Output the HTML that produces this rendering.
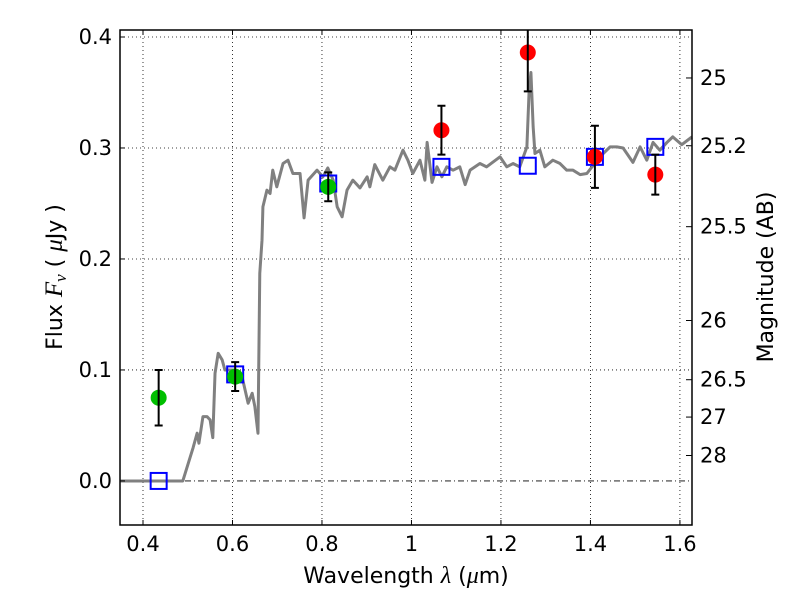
<!DOCTYPE html>
<html><head><meta charset="utf-8"><style>
body{margin:0;background:#fff;}
svg text{font-family:"DejaVu Sans","Liberation Sans",sans-serif;}
</style></head><body>
<svg id="chart" width="800" height="600" xmlns="http://www.w3.org/2000/svg">
<rect width="800" height="600" fill="#fff"/>
<g id="grid"></g>
<g id="marks"></g>
<g id="axes"></g>
<text x="406" y="583" font-size="22" text-anchor="middle">Wavelength  <tspan font-style="italic" font-family="Liberation Serif, serif" font-size="24">λ</tspan> (<tspan font-style="italic" font-family="Liberation Serif, serif" font-size="24">μ</tspan>m)</text>
<text transform="translate(62,277) rotate(-90)" font-size="22" text-anchor="middle">Flux  <tspan font-style="italic" font-family="Liberation Serif, serif" font-size="25">F<tspan font-size="17" dy="4">ν</tspan></tspan><tspan dy="-4">  ( </tspan><tspan font-style="italic" font-family="Liberation Serif, serif" font-size="25">μ</tspan>Jy )</text>
<text transform="translate(773,277) rotate(-90)" font-size="22" text-anchor="middle">Magnitude (AB)</text>
</svg>
<script>
const xTicks=[0.4,0.6,0.8,1.0,1.2,1.4,1.6];
const xTickLabels=["0.4","0.6","0.8","1","1.2","1.4","1.6"];
const yTicks=[0.0,0.1,0.2,0.3,0.4];
const yTickLabels=["0.0","0.1","0.2","0.3","0.4"];
const magTicks=[25,25.2,25.5,26,26.5,27,28];
const magTickLabels=["25","25.2","25.5","26","26.5","27","28"];
const specWave=[0.35,0.489,0.512,0.521,0.525,0.534,0.543,0.55,0.556,0.561,0.568,0.577,0.583,0.601,0.612,0.623,0.635,0.644,0.65,0.657,0.661,0.666,0.668,0.677,0.684,0.69,0.699,0.713,0.724,0.735,0.751,0.76,0.769,0.789,0.802,0.813,0.825,0.834,0.845,0.856,0.869,0.885,0.901,0.907,0.918,0.936,0.952,0.963,0.981,0.992,1.003,1.019,1.030,1.035,1.046,1.057,1.068,1.079,1.093,1.108,1.120,1.131,1.153,1.168,1.198,1.213,1.227,1.242,1.258,1.263,1.267,1.272,1.276,1.287,1.298,1.316,1.332,1.347,1.361,1.377,1.392,1.421,1.444,1.459,1.473,1.495,1.511,1.526,1.540,1.555,1.571,1.584,1.604,1.627];
const specFlux=[0,0,0.030,0.043,0.034,0.058,0.058,0.055,0.039,0.097,0.115,0.109,0.100,0.100,0.094,0.091,0.070,0.079,0.067,0.043,0.187,0.217,0.247,0.262,0.259,0.280,0.265,0.286,0.289,0.277,0.277,0.237,0.271,0.280,0.274,0.282,0.271,0.247,0.238,0.262,0.271,0.264,0.274,0.265,0.285,0.271,0.283,0.280,0.298,0.289,0.277,0.289,0.271,0.305,0.269,0.283,0.274,0.283,0.280,0.283,0.267,0.280,0.286,0.283,0.292,0.283,0.286,0.283,0.301,0.352,0.368,0.319,0.295,0.298,0.283,0.289,0.286,0.280,0.280,0.276,0.277,0.292,0.301,0.301,0.300,0.287,0.301,0.289,0.305,0.298,0.305,0.310,0.303,0.310];
const greenWave=[0.435,0.606,0.814];
const greenFlux=[0.075,0.094,0.265];
const greenErr=[0.025,0.013,0.013];
const redWave=[1.067,1.26,1.41,1.545];
const redFlux=[0.316,0.386,0.292,0.276];
const redErr=[0.022,0.035,0.028,0.018];
const modelWave=[0.435,0.606,0.814,1.067,1.26,1.41,1.545];
const modelFlux=[0.0,0.096,0.268,0.283,0.284,0.292,0.301];

const L=120,R=692,T=30,B=525;
const xMin=0.3486,xMax=1.627,yMin=-0.0397,yMax=0.4063;
const X=v=>L+(v-xMin)/(xMax-xMin)*(R-L);
const Y=v=>B-(v-yMin)/(yMax-yMin)*(B-T);
const NS="http://www.w3.org/2000/svg";
function mk(tag,parent,attrs){const e=document.createElementNS(NS,tag);for(const k in attrs)e.setAttribute(k,attrs[k]);document.getElementById(parent).appendChild(e);return e;}
xTicks.forEach((t,i)=>{const g=mk('line','grid',{x1:X(t),x2:X(t),y1:T,y2:B,stroke:'#000','stroke-width':0.8,'stroke-dasharray':'1,3'});


const tk=mk('line','axes',{x1:X(t),x2:X(t),y1:B,y2:B-5,stroke:'#000','stroke-width':1});


const tk2=mk('line','axes',{x1:X(t),x2:X(t),y1:T,y2:T+5,stroke:'#000','stroke-width':1});


const lb=mk('text','axes',{x:X(t),y:B+26,'font-size':21,'text-anchor':'middle'});lb.textContent=xTickLabels[i];

});
yTicks.forEach((t,i)=>{const g=mk('line','grid',{x1:L,x2:R,y1:Y(t),y2:Y(t),stroke:'#000','stroke-width':0.8,'stroke-dasharray':t===0?'6,3,1,3':'1,3'});


const tk=mk('line','axes',{x1:L,x2:L+5,y1:Y(t),y2:Y(t),stroke:'#000','stroke-width':1});


const lb=mk('text','axes',{x:L-8,y:Y(t)+7,'font-size':21,'text-anchor':'end'});lb.textContent=yTickLabels[i];

});
magTicks.forEach((m,i)=>{const f=Math.pow(10,(23.9-m)/2.5);const y=Y(f);
const tk=mk('line','axes',{x1:R,x2:R-6,y1:y,y2:y,stroke:'#000','stroke-width':1});


const lb=mk('text','axes',{x:R+8,y:y+7,'font-size':21});lb.textContent=magTickLabels[i];

});
const sp=mk('polyline','marks',{points:specWave.map((w,i)=>X(w)+','+Y(specFlux[i])).join(' '),fill:'none',stroke:'#808080','stroke-width':3,'stroke-linejoin':'round'});


modelWave.forEach((w,i)=>{const s=mk('rect','marks',{x:X(w)-8,y:Y(modelFlux[i])-8,width:16,height:16,fill:'none',stroke:'#0000ff','stroke-width':2});

});
function pts(ws,fs,es,col,name){ws.forEach((w,i)=>{const x=X(w),y1=Y(fs[i]-es[i]),y2=Y(fs[i]+es[i]);
const c=mk('circle','marks',{cx:x,cy:Y(fs[i]),r:8,fill:col});


const e=mk('path','marks',{d:`M${x},${y1}V${Math.max(y2,T)}M${x-4},${y1}H${x+4}`+(y2>=T?`M${x-4},${y2}H${x+4}`:''),stroke:'#000','stroke-width':2,fill:'none'});

});}
pts(greenWave,greenFlux,greenErr,'#00bf00','ground-photometry-point');
pts(redWave,redFlux,redErr,'#ff0000','space-photometry-point');
const fr=mk('rect','axes',{x:L,y:T,width:R-L,height:B-T,fill:'none',stroke:'#000','stroke-width':1.5});


</script>
</body></html>
